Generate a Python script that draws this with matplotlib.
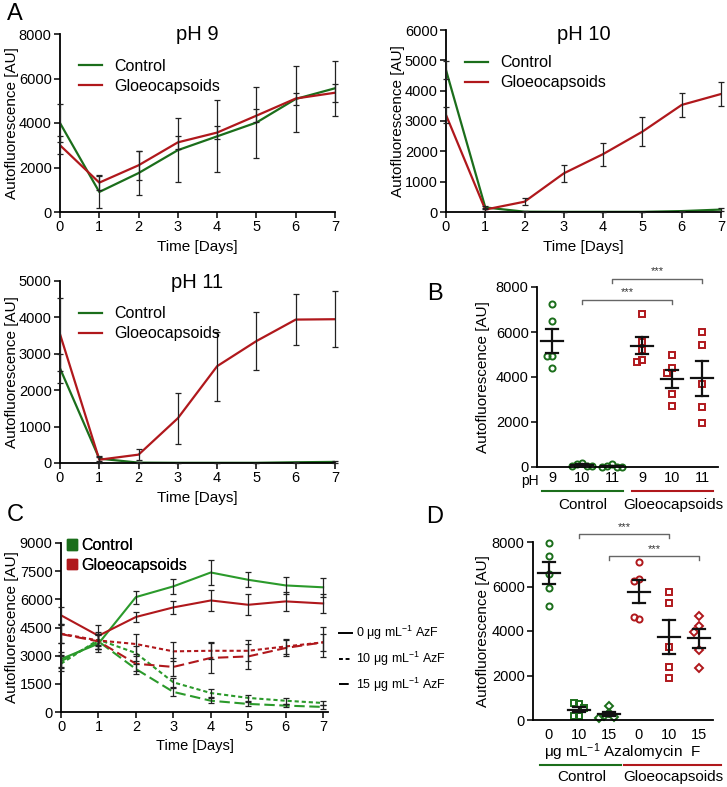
import numpy as np
import matplotlib.pyplot as plt
from matplotlib.lines import Line2D
from matplotlib.patches import Patch

plt.rcParams['font.family'] = ['Liberation Sans', 'DejaVu Sans']
plt.rcParams['font.size'] = 10
plt.rcParams['mathtext.default'] = 'regular'
plt.rcParams['axes.linewidth'] = 1.3

GREEN = '#1b6e1b'
GREEN_C = '#2b9a2b'
RED = '#b0181c'
W, H = 727, 787

# ---- panel A: time courses (mean, error) ----
days = np.arange(8)

ph9_ctrl = [4000, 900, 1750, 2780, 3400, 4020, 5080, 5560]
ph9_ctrl_err = [850, 700, 1000, 1450, 1620, 1600, 1480, 1230]
ph9_gloeo = [3000, 1320, 2100, 3130, 3570, 4330, 5100, 5360]
ph9_gloeo_err = [400, 350, 650, 300, 300, 280, 270, 400]

ph10_ctrl = [4680, 150, 10, 5, 5, 5, 30, 80]
ph10_ctrl_err = [300, 60, 10, 5, 5, 5, 15, 40]
ph10_gloeo = [3200, 80, 340, 1275, 1910, 2650, 3530, 3890]
ph10_gloeo_err = [250, 60, 120, 270, 380, 480, 390, 410]

ph11_ctrl = [2600, 120, 10, 5, 5, 5, 20, 30]
ph11_ctrl_err = [400, 60, 10, 5, 5, 5, 10, 20]
ph11_gloeo = [3540, 90, 230, 1230, 2660, 3350, 3940, 3950]
ph11_gloeo_err = [1000, 80, 150, 700, 950, 800, 700, 770]

# ---- panel B: day 7 replicates ----
b_labels = ['9', '10', '11', '9', '10', '11']
b_ctrl = [[7260, 6470, 4920, 4920, 4400],
          [180, 120, 60, 40, 30],
          [120, 40, 20, 10, 10]]
b_gloeo = [[6800, 5540, 5180, 4770, 4650],
           [5000, 4400, 4160, 3230, 2720],
           [5980, 5410, 3700, 2680, 1940]]

# ---- panel C: azalomycin F time courses ----
c_ctrl_0 = [2820, 3640, 6120, 6690, 7430, 7040, 6740, 6640]
c_ctrl_0_err = [400, 450, 350, 400, 650, 400, 450, 500]
c_ctrl_10 = [2570, 3850, 3140, 1580, 1010, 750, 600, 480]
c_ctrl_10_err = [400, 300, 400, 250, 200, 150, 150, 120]
c_ctrl_15 = [2700, 3760, 2290, 1070, 600, 430, 340, 270]
c_ctrl_15_err = [350, 400, 250, 200, 120, 100, 100, 100]
c_gloeo_0 = [5150, 4060, 5060, 5570, 5940, 5710, 5890, 5780]
c_gloeo_0_err = [450, 550, 250, 350, 550, 550, 500, 500]
c_gloeo_10 = [4170, 3810, 3620, 3230, 3260, 3260, 3490, 3710]
c_gloeo_10_err = [500, 450, 550, 500, 450, 550, 400, 450]
c_gloeo_15 = [4150, 3760, 2570, 2400, 2880, 2960, 3410, 3710]
c_gloeo_15_err = [500, 400, 400, 500, 800, 650, 450, 800]

# ---- panel D: day 7 replicates with AzF ----
d_labels = ['0', '10', '15', '0', '10', '15']
d_ctrl = [[7950, 7390, 6580, 5950, 5130],
          [700, 750, 520, 180, 180],
          [640, 300, 200, 130, 100]]
d_gloeo = [[7100, 6330, 6240, 4520, 4620],
           [5760, 5280, 3290, 2360, 1900],
           [4670, 4230, 3960, 3140, 2320]]

fig = plt.figure(figsize=(W / 100, H / 100), dpi=100)


def px_axes(l, t, r, b):
    return fig.add_axes([l / W, 1 - b / H, (r - l) / W, (b - t) / H])


def fx(x):
    return x / W


def fy(y):
    return 1 - y / H


def style(ax):
    for s in ['top', 'right']:
        ax.spines[s].set_visible(False)
    ax.tick_params(direction='out', length=4, width=1.1, labelsize=10.5, pad=2)


def place_labels(ax, ylab_x=None, xlab_y=None):
    # label centres given in figure pixels
    pos = ax.get_position()
    if ylab_x is not None:
        ax.yaxis.label.set_va('center')
        ax.yaxis.set_label_coords(fx(ylab_x), pos.y0 + pos.height / 2, transform=fig.transFigure)
    if xlab_y is not None:
        ax.xaxis.label.set_va('center')
        ax.xaxis.set_label_coords(pos.x0 + pos.width / 2, fy(xlab_y), transform=fig.transFigure)


def time_panel(ax, ctrl, ctrl_err, gloeo, gloeo_err, ymax, ystep, title, ty):
    for y, e, c in [(ctrl, ctrl_err, GREEN), (gloeo, gloeo_err, RED)]:
        ax.plot(days, y, color=c, lw=1.6, zorder=2)
        ax.errorbar(days, y, yerr=e, fmt='none', ecolor='#222222',
                    elinewidth=0.9, capsize=2.5, capthick=0.9, zorder=3, clip_on=False)
    ax.set_xlim(0, 7)
    ax.set_ylim(0, ymax)
    ax.set_xticks(days)
    ax.set_yticks(np.arange(0, ymax + 1, ystep))
    style(ax)
    ax.text(0.5, ty, title, transform=ax.transAxes, ha='center', va='center', fontsize=14.5)
    handles = [Line2D([], [], color=GREEN, lw=1.6), Line2D([], [], color=RED, lw=1.6)]
    ax.legend(handles, ['Control', 'Gloeocapsoids'], loc='upper left',
              bbox_to_anchor=(0.07, 0.86), frameon=False, fontsize=11.5,
              handlelength=1.4, handletextpad=0.8, labelspacing=0.3,
              borderpad=0, borderaxespad=0)
    ax.set_xlabel('Time [Days]', fontsize=11)
    ax.set_ylabel('Autofluorescence [AU]', fontsize=11)


def swarm(vals, width=0.16, ythr=330):
    placed, offs = [], []
    for v in vals:
        for k in [0, -1, 1, -2, 2, -3, 3]:
            o = k * width
            if all(((o - po) / width) ** 2 + ((v - pv) / ythr) ** 2 >= 1 for po, pv in placed):
                break
        placed.append((o, v))
        offs.append(o)
    return np.array(offs)


def dot_panel(ax, groups, markers, colors, sizes):
    for i, (vals, m, c, ms) in enumerate(zip(groups, markers, colors, sizes)):
        x = i + 1
        vals = np.array(vals, dtype=float)
        ax.plot(x + swarm(vals), vals, ls='none', marker=m, ms=ms, mfc='none',
                mec=c, mew=1.4, zorder=2, clip_on=False)
        mean = vals.mean()
        sem = vals.std(ddof=1) / np.sqrt(len(vals))
        ax.plot([x - 0.36, x + 0.36], [mean, mean], color='#111111', lw=1.6, zorder=3)
        ax.plot([x, x], [mean - sem, mean + sem], color='#111111', lw=1.6, zorder=3)
        for yy in [mean - sem, mean + sem]:
            ax.plot([x - 0.19, x + 0.19], [yy, yy], color='#111111', lw=1.6, zorder=3)


def bracket(ax, x1, x2, y, dy):
    ax.plot([x1, x1, x2, x2], [y - dy, y, y, y - dy], color='#666666', lw=1, clip_on=False)
    ax.text((x1 + x2) / 2, y + dy * 0.6, '***', ha='center', va='bottom', fontsize=8,
            color='#333333')


# ---- A ----
ax1 = px_axes(60, 34, 335, 212)
time_panel(ax1, ph9_ctrl, ph9_ctrl_err, ph9_gloeo, ph9_gloeo_err, 8000, 2000, 'pH 9', 1.0)
place_labels(ax1, 12, 247)

ax2 = px_axes(446, 30, 721, 212)
time_panel(ax2, ph10_ctrl, ph10_ctrl_err, ph10_gloeo, ph10_gloeo_err, 6000, 1000, 'pH 10', 0.973)
place_labels(ax2, 398, 247)

ax3 = px_axes(60, 281, 335, 463)
time_panel(ax3, ph11_ctrl, ph11_ctrl_err, ph11_gloeo, ph11_gloeo_err, 5000, 1000, 'pH 11', 0.99)
place_labels(ax3, 12, 498)

# ---- B ----
axb = px_axes(537, 287, 718, 467)
dot_panel(axb, b_ctrl + b_gloeo, ['o'] * 3 + ['s'] * 3, [GREEN] * 3 + [RED] * 3, [4.4] * 6)
axb.set_xlim(0.5, 6.53)
axb.set_ylim(0, 8000)
axb.set_yticks(np.arange(0, 8001, 2000))
axb.set_xticks(np.arange(1, 7))
axb.set_xticklabels(b_labels)
style(axb)
axb.tick_params(axis='x', length=0, pad=3)
axb.set_ylabel('Autofluorescence [AU]', fontsize=11)
place_labels(axb, 483)
bracket(axb, 2, 5, 7430, 180)
bracket(axb, 3, 6, 8370, 180)
fig.text(fx(530), fy(481), 'pH', ha='center', va='center', fontsize=10)
fig.add_artist(Line2D([fx(542), fx(623)], [fy(491)] * 2, color=GREEN, lw=1.5))
fig.add_artist(Line2D([fx(632), fx(713)], [fy(491)] * 2, color=RED, lw=1.5))
fig.text(fx(583), fy(505), 'Control', ha='center', va='center', fontsize=11)
fig.text(fx(673), fy(505), 'Gloeocapsoids', ha='center', va='center', fontsize=11)

# ---- C ----
axc = px_axes(61, 543, 328, 712)
c_series = [(c_ctrl_0, c_ctrl_0_err, GREEN_C, '-'),
            (c_ctrl_10, c_ctrl_10_err, GREEN_C, (0, (2, 1.4))),
            (c_ctrl_15, c_ctrl_15_err, GREEN_C, (0, (5, 2.2))),
            (c_gloeo_0, c_gloeo_0_err, RED, '-'),
            (c_gloeo_10, c_gloeo_10_err, RED, (0, (2, 1.4))),
            (c_gloeo_15, c_gloeo_15_err, RED, (0, (5, 2.2)))]
for y, e, c, ls in c_series:
    axc.plot(days, y, color=c, lw=1.5, ls=ls, zorder=2)
    axc.errorbar(days, y, yerr=e, fmt='none', ecolor='#222222', elinewidth=0.9,
                 capsize=2.2, capthick=0.9, zorder=3, clip_on=False)
axc.set_xlim(0, 7.13)
axc.set_ylim(0, 9000)
axc.set_xticks(days)
axc.set_yticks(np.arange(0, 9001, 1500))
style(axc)
axc.set_xlabel('Time [Days]', fontsize=10.5)
axc.set_ylabel('Autofluorescence [AU]', fontsize=11)
place_labels(axc, 12, 746)
leg1 = axc.legend([Patch(color=GREEN), Patch(color=RED)], ['Control', 'Gloeocapsoids'],
                  loc='upper left', bbox_to_anchor=(0.022, 1.03), frameon=False, fontsize=11.5,
                  handlelength=0.65, handleheight=0.65, handletextpad=0.25,
                  labelspacing=0.3, borderpad=0, borderaxespad=0)
axc.add_artist(leg1)
azf_handles = [Line2D([], [], color='k', lw=1.4, ls='-'),
               Line2D([], [], color='k', lw=1.4, ls=(0, (2, 1.4))),
               Line2D([], [], color='k', lw=1.4, ls=(0, (5, 2.2)))]
azf_labels = ['0 μg mL$^{-1}$ AzF', '10 μg mL$^{-1}$ AzF', '15 μg mL$^{-1}$ AzF']
fig.legend(azf_handles, azf_labels, loc='upper left', bbox_to_anchor=(fx(339), fy(624)),
           frameon=False, fontsize=9, handlelength=1.0, handletextpad=0.35,
           labelspacing=0.6, borderpad=0, borderaxespad=0)

# ---- D ----
axd = px_axes(533, 542, 713, 720)
dot_panel(axd, d_ctrl + d_gloeo, ['o', 's', 'D'] * 2, [GREEN] * 3 + [RED] * 3,
          [4.4, 4.6, 4.0, 4.4, 4.6, 4.0])
axd.set_xlim(0.47, 6.47)
axd.set_ylim(0, 8000)
axd.set_yticks(np.arange(0, 8001, 2000))
axd.set_xticks(np.arange(1, 7))
axd.set_xticklabels(d_labels)
style(axd)
axd.tick_params(axis='x', length=0, pad=6)
axd.set_ylabel('Autofluorescence [AU]', fontsize=11)
place_labels(axd, 483)
bracket(axd, 2, 5, 8345, 180)
bracket(axd, 3, 6, 7360, 180)
fig.text(fx(622), fy(752), 'μg mL$^{-1}$ Azalomycin  F', ha='center', va='center', fontsize=11)
fig.add_artist(Line2D([fx(540), fx(621)], [fy(765)] * 2, color=GREEN, lw=1.5))
fig.add_artist(Line2D([fx(624), fx(721)], [fy(765)] * 2, color=RED, lw=1.5))
fig.text(fx(582), fy(777), 'Control', ha='center', va='center', fontsize=11)
fig.text(fx(673), fy(777), 'Gloeocapsoids', ha='center', va='center', fontsize=11)

# ---- panel letters ----
for letter, x, y in [('A', 15, 14), ('B', 435, 294), ('C', 15, 515), ('D', 435, 517)]:
    fig.text(fx(x), fy(y), letter, ha='center', va='center', fontsize=17)

fig.savefig('out.png', dpi=100)
